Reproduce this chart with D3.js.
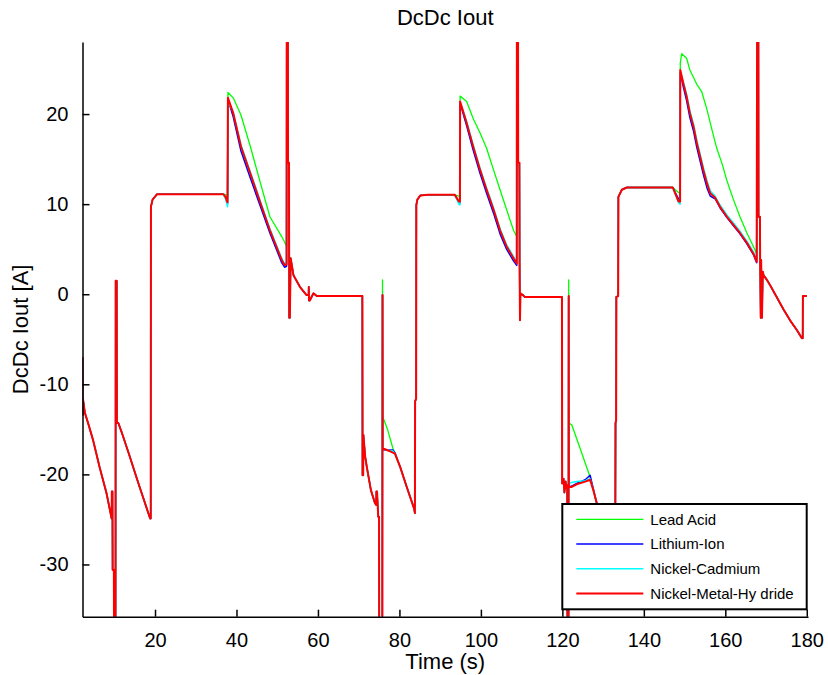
<!DOCTYPE html>
<head>
<title>DcDc Iout</title>
<meta charset="utf-8">
<style>
body { margin: 0; background: #fff; }
text { font-family: "Liberation Sans", Arial, sans-serif; fill: #000; }
.axis path, .axis line { stroke: #000; stroke-width: 1.5px; }
.axis text { font-size: 20px; }
.line { fill: none; stroke-linejoin: round; }
</style>
</head>
<body>
<svg width="828" height="675"></svg>
<script src="https://d3js.org/d3.v7.min.js"></script>
<script type="text/javascript">
/* global d3 */
// series names, as drawn in the legend
let seriesNames = ["Lead Acid", "Lithium-Ion", "Nickel-Cadmium", "Nickel-Metal-Hy dride"];
let xTicks = [20, 40, 60, 80, 100, 120, 140, 160, 180];
let yTicks = [-30, -20, -10, 0, 10, 20];

// [time (s), current (A)] pieces that all four batteries share
let sharedStart = [[2.2,-7.0],[2.22,-13.4],[2.3,-11.6],[2.8,-13.2],[3.5,-14.2],[4.8,-16.2],[6.4,-19.2],[8.1,-22.1],
  [9.35,-24.9],[9.4,-21.9],[9.55,-21.9],[9.6,-30.6],[9.9,-30.6],[9.95,-40],[10.3,-40],[10.35,1.5],[10.6,1.5],
  [10.65,-14.3],[11.0,-14.3],[11.8,-15.3],[13.5,-17.6],[16.0,-21.1],[18.8,-24.9],[18.95,-24.9],[19.0,9.7],
  [19.4,10.5],[20.5,11.1],[36.8,11.1]];
let sharedMid1 = [[52.35,40],[52.6,40],[52.65,14.6],[52.9,14.6],[52.95,-2.6],[53.1,-2.6],[53.3,4.0],[54.0,2.1],
  [55.6,0.8],[57.2,-0.1],[57.7,-0.1],[57.75,0.8],[57.8,-0.7],[58.0,-0.7],[58.9,0.1],[59.7,-0.2],[70.9,-0.2],
  [70.95,-20.1],[71.1,-20.1],[71.15,-15.6],[71.6,-18.05],[72.0,-19.2],[73.0,-21.75],[74.0,-23.2],[74.3,-23.4],
  [74.35,-21.9],[74.5,-21.9],[74.8,-24.7],[75.0,-24.7],[75.05,-40],[75.8,-40]];
let sharedMid2 = [[80.2,-19.2],[81.8,-21.4],[83.6,-23.8],[83.8,-24.3],[83.85,-11.9],[84.1,-11.6],[84.15,9.9],
  [84.4,10.5],[85.1,10.95],[87.0,11.03],[93.6,11.03]];
let sharedMid3 = [[108.85,40],[109.1,40],[109.15,14.6],[109.45,14.6],[109.5,3.4],[109.6,-2.9],[109.7,0.1],
  [110.3,-0.1],[110.8,-0.3],[119.9,-0.3],[119.95,-21.0],[120.3,-20.5],[120.5,-22.0],[120.8,-20.8],[121.0,-21.5],
  [121.2,-21.2],[121.25,-40],[121.5,-40]];
let sharedMid4 = [[128.5,-23.3],[130.5,-24.2],[132.9,-24.9],[133.0,-24.9],[133.05,-14.3],[133.2,-14.0],
  [133.25,-0.3],[133.7,-0.2],[133.75,10.8],[134.6,11.6],[135.8,11.85],[147.1,11.85]];
let sharedEnd = [[167.85,40],[168.1,40],[168.15,8.6],[168.5,8.6],[168.55,3.8],[168.7,-2.6],[168.8,3.8],[169.0,-2.6],
  [169.2,2.5],[169.4,2.1],[170.2,1.6],[171.0,1.0],[172.6,-0.3],[174.3,-1.7],[175.9,-2.9],[177.6,-4.0],
  [178.8,-4.9],[179.0,-4.9],[179.05,-0.2],[180.0,-0.2]];

// Lead Acid
let leadAcid1 = [[37.6,11.0],[37.85,10.8],[37.9,22.4],[39.2,21.8],[41.1,19.9],[43.4,16.4],[45.9,12.3],[48.2,8.6],[51.1,6.4],[51.8,5.8],[52.3,5.3]];
let leadAcid2 = [[75.85,1.6],[75.9,-13.6],[77.0,-14.9],[78.4,-17.1],[78.9,-17.7]];
let leadAcid3 = [[94.6,10.9],[94.85,10.8],[94.9,22.0],[96.5,21.4],[98.1,19.5],[99.8,17.9],[101.4,16.2],[103.1,13.8],[104.7,11.6],[106.3,9.4],[108.0,7.1],[108.8,6.4]];
let leadAcid4 = [[121.55,1.6],[121.6,-14.3],[122.3,-14.5],[124.5,-17.3],[126.8,-20.3],[127.6,-21.75]];
let leadAcid5 = [[148.5,11.3],[148.9,11.2],[148.95,25.7],[149.3,26.7],[150.5,26.2],[151.3,24.9],[153.0,23.3],[154.2,22.5],[155.5,20.5],[156.7,18.3],[157.9,16.2],[159.2,14.5],[160.4,12.6],[162.0,10.5],[163.6,8.6],[165.3,6.8],[166.9,5.3],[167.7,4.5]];

// Lithium-Ion
let lithium1 = [[37.4,10.6],[37.8,10.0],[37.9,21.6],[39.2,19.7],[41.1,15.9],[43.4,12.9],[45.9,9.7],[48.2,6.8],[51.1,3.5],[51.8,3.0],[52.3,3.1]];
let lithium2 = [[75.85,-0.1],[75.9,-17.3],[78.4,-17.3],[78.9,-17.6]];
let lithium3 = [[94.6,10.2],[94.85,10.1],[94.9,21.2],[96.5,18.7],[98.1,16.0],[99.8,13.4],[101.4,11.2],[103.1,9.0],[104.7,6.7],[106.3,5.0],[108.0,3.7],[108.8,3.2]];
let lithium4 = [[121.55,-0.2],[121.6,-21.4],[122.3,-21.3],[123.5,-21.0],[125.6,-20.6],[126.8,-20.1],[127.6,-21.6]];
let lithium5 = [[148.5,10.6],[148.9,10.4],[148.95,24.6],[149.7,23.0],[150.5,21.5],[151.3,19.6],[152.2,18.1],[153.0,16.3],[153.8,14.8],[154.6,13.3],[155.5,11.8],[156.3,10.9],[157.5,10.6],[158.7,9.6],[160.4,8.5],[162.0,7.6],[163.6,6.7],[165.3,5.6],[166.9,4.4],[167.7,3.5]];

// Nickel-Cadmium
let cadmium1 = [[37.4,10.5],[37.8,9.7],[37.9,21.4],[39.2,20.2],[41.1,16.6],[43.4,13.6],[45.9,10.3],[48.2,7.3],[51.1,4.0],[51.8,3.4],[52.3,3.5]];
let cadmium2 = [[75.85,-0.1],[75.9,-17.2],[78.4,-17.4],[78.9,-17.7]];
let cadmium3 = [[94.6,10.0],[94.85,9.9],[94.9,21.3],[96.5,19.2],[98.1,16.6],[99.8,14.0],[101.4,11.8],[103.1,9.6],[104.7,7.3],[106.3,5.5],[108.0,4.2],[108.8,3.6]];
let cadmium4 = [[121.55,-0.2],[121.6,-21.0],[122.3,-20.9],[123.5,-20.8],[125.6,-20.7],[126.8,-20.5],[127.6,-21.7]];
let cadmium5 = [[148.5,10.2],[148.9,10.0],[148.95,24.7],[149.7,23.6],[150.5,22.2],[151.3,20.4],[152.2,18.9],[153.0,17.1],[153.8,15.6],[154.6,14.1],[155.5,12.6],[156.3,11.5],[157.5,10.9],[158.7,9.9],[160.4,8.8],[162.0,7.9],[163.6,7.0],[165.3,5.9],[166.9,4.7],[167.7,3.8]];

// Nickel-Metal-Hydride
let nimh1 = [[37.3,10.8],[37.8,10.2],[37.9,21.8],[39.2,20.1],[41.1,16.4],[43.4,13.4],[45.9,10.1],[48.2,7.1],[51.1,3.8],[51.8,3.25],[52.3,3.3]];
let nimh2 = [[75.85,-0.1],[75.9,-17.1],[77.5,-17.4],[78.9,-17.7]];
let nimh3 = [[94.6,10.3],[94.85,10.3],[94.9,21.4],[96.5,19.0],[98.1,16.4],[99.8,13.8],[101.4,11.6],[103.1,9.4],[104.7,7.1],[106.3,5.3],[108.0,4.0],[108.8,3.4]];
let nimh4 = [[121.55,-0.2],[121.6,-21.4],[122.3,-21.4],[123.5,-21.1],[125.6,-20.8],[126.8,-20.6],[127.6,-21.75]];
let nimh5 = [[148.5,10.3],[148.9,10.3],[148.95,24.9],[149.7,23.4],[150.5,21.95],[151.3,20.1],[152.2,18.6],[153.0,16.8],[153.8,15.3],[154.6,13.8],[155.5,12.3],[156.3,11.2],[157.5,10.7],[158.7,9.7],[160.4,8.6],[162.0,7.7],[163.6,6.8],[165.3,5.7],[166.9,4.5],[167.7,3.6]];

function build(p1, p2, p3, p4, p5) {
  return [].concat(sharedStart, p1, sharedMid1, p2, sharedMid2, p3, sharedMid3, p4, sharedMid4, p5, sharedEnd);
}
let data = [
  build(leadAcid1, leadAcid2, leadAcid3, leadAcid4, leadAcid5),
  build(lithium1, lithium2, lithium3, lithium4, lithium5),
  build(cadmium1, cadmium2, cadmium3, cadmium4, cadmium5),
  build(nimh1, nimh2, nimh3, nimh4, nimh5)
];
let colors = ["#00ff00", "#0000ff", "#00ffff", "#ff0000"];
let widths = [1.3, 1.5, 1.5, 2];

let svg = d3.select("svg"),
    margin = {top: 42, right: 20, bottom: 58.3, left: 82.5},
    width = +svg.attr("width") - margin.left - margin.right,
    height = +svg.attr("height") - margin.top - margin.bottom,
    g = svg.append("g").attr("transform", "translate(" + margin.left + "," + margin.top + ")");

let x = d3.scaleLinear().domain([2.2, 180.3]).range([0, width]);
let y = d3.scaleLinear().domain([-35.8, 28.0]).range([height, 0]);

let line = d3.line()
    .x(d => x(d[0]))
    .y(d => y(d[1]));

g.append("defs").append("clipPath").attr("id", "clip")
  .append("rect").attr("width", width).attr("height", height);

g.append("g")
  .attr("clip-path", "url(#clip)")
  .selectAll("path")
  .data(data)
  .enter().append("path")
    .attr("class", "line")
    .attr("d", line)
    .attr("stroke", (d, i) => colors[i])
    .attr("stroke-width", (d, i) => widths[i]);

// axes, ticks inside like MATLAB, plain hyphen for negatives
g.append("g")
  .attr("class", "axis axis--x")
  .attr("transform", "translate(0," + height + ")")
  .call(d3.axisBottom(x).tickValues(xTicks).tickFormat(d => String(d))
    .tickSizeInner(-7).tickSizeOuter(0).tickPadding(16));

g.append("g")
  .attr("class", "axis axis--y")
  .call(d3.axisLeft(y).tickValues(yTicks).tickFormat(d => String(d))
    .tickSizeInner(-7).tickSizeOuter(0).tickPadding(14));

// title and labels
svg.append("text")
  .attr("x", margin.left + width / 2).attr("y", 25)
  .attr("text-anchor", "middle").style("font-size", "22px")
  .text("DcDc Iout");

svg.append("text")
  .attr("x", margin.left + width / 2).attr("y", 669)
  .attr("text-anchor", "middle").style("font-size", "22px")
  .text("Time (s)");

svg.append("text")
  .attr("transform", "translate(28," + (margin.top + height / 2) + ") rotate(-90)")
  .attr("text-anchor", "middle").style("font-size", "22px")
  .text("DcDc Iout [A]");

// legend
let legend = svg.append("g").attr("transform", "translate(562.3,504)");
legend.append("rect")
  .attr("width", 244.4).attr("height", 105.3)
  .attr("fill", "#fff").attr("stroke", "#000").attr("stroke-width", 2);

let item = legend.selectAll(".item")
  .data(seriesNames)
  .enter().append("g")
    .attr("class", "item")
    .attr("transform", (d, i) => "translate(0," + (15.3 + i * 24.7) + ")");
item.append("line")
  .attr("x1", 14).attr("x2", 81)
  .attr("stroke", (d, i) => colors[i])
  .attr("stroke-width", (d, i) => widths[i]);
item.append("text")
  .attr("x", 88).attr("dy", "0.35em")
  .style("font-size", "15px")
  .text(d => d);
</script>
</body>
